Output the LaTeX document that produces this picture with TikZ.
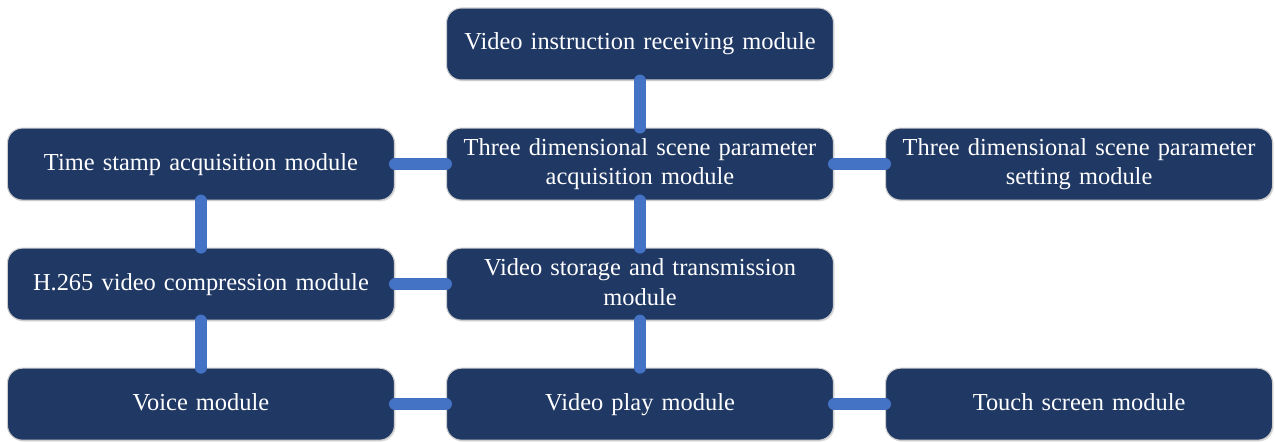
\documentclass[tikz,border=0pt]{standalone}
\usepackage{fontspec}
\setmainfont{Liberation Serif}
\usetikzlibrary{positioning,shadows}
\definecolor{navy}{RGB}{32,56,100}
\definecolor{linkblue}{RGB}{68,114,196}
\definecolor{rim}{RGB}{205,205,205}
\tikzstyle{module} = [rectangle, rounded corners=0.3cm,
minimum width=7.74cm, minimum height=1.44cm,
text width=7.5cm, align=center, inner ysep=1pt,
draw=rim, line width=0.6pt, fill=navy, text=white,
font=\fontsize{13.9pt}{17pt}\selectfont,
execute at begin node=\strut, execute at end node=\strut,
drop shadow={shadow xshift=0.6pt, shadow yshift=-0.8pt, opacity=0.25}]
\tikzstyle{link} = [line width=0.24cm, draw=linkblue, line cap=round]

\begin{document}
\begin{tikzpicture}[node distance=0.94cm and 1.02cm]
      \useasboundingbox (0,0) rectangle (25.5,-8.82);
      \node[module] (instr) at (12.8,-0.88) {Video instruction receiving module};
      \node[module, below=of instr]   (acq)   {Three dimensional scene parameter\\acquisition module};
      \node[module, left=of acq]      (stamp) {Time stamp acquisition module};
      \node[module, right=of acq]     (set)   {Three dimensional scene parameter\\setting module};
      \node[module, below=of acq]     (store) {Video storage and transmission\\module};
      \node[module, left=of store]    (h265)  {H.265 video compression module};
      \node[module, below=of store]   (play)  {Video play module};
      \node[module, left=of play]     (voice) {Voice module};
      \node[module, right=of play]    (touch) {Touch screen module};

      \draw [link] (instr) -- (acq);
      \draw [link] (stamp) -- (acq);
      \draw [link] (acq)   -- (set);
      \draw [link] (acq)   -- (store);
      \draw [link] (stamp) -- (h265);
      \draw [link] (h265)  -- (store);
      \draw [link] (h265)  -- (voice);
      \draw [link] (store) -- (play);
      \draw [link] (voice) -- (play);
      \draw [link] (play)  -- (touch);
    \end{tikzpicture}
\end{document}
